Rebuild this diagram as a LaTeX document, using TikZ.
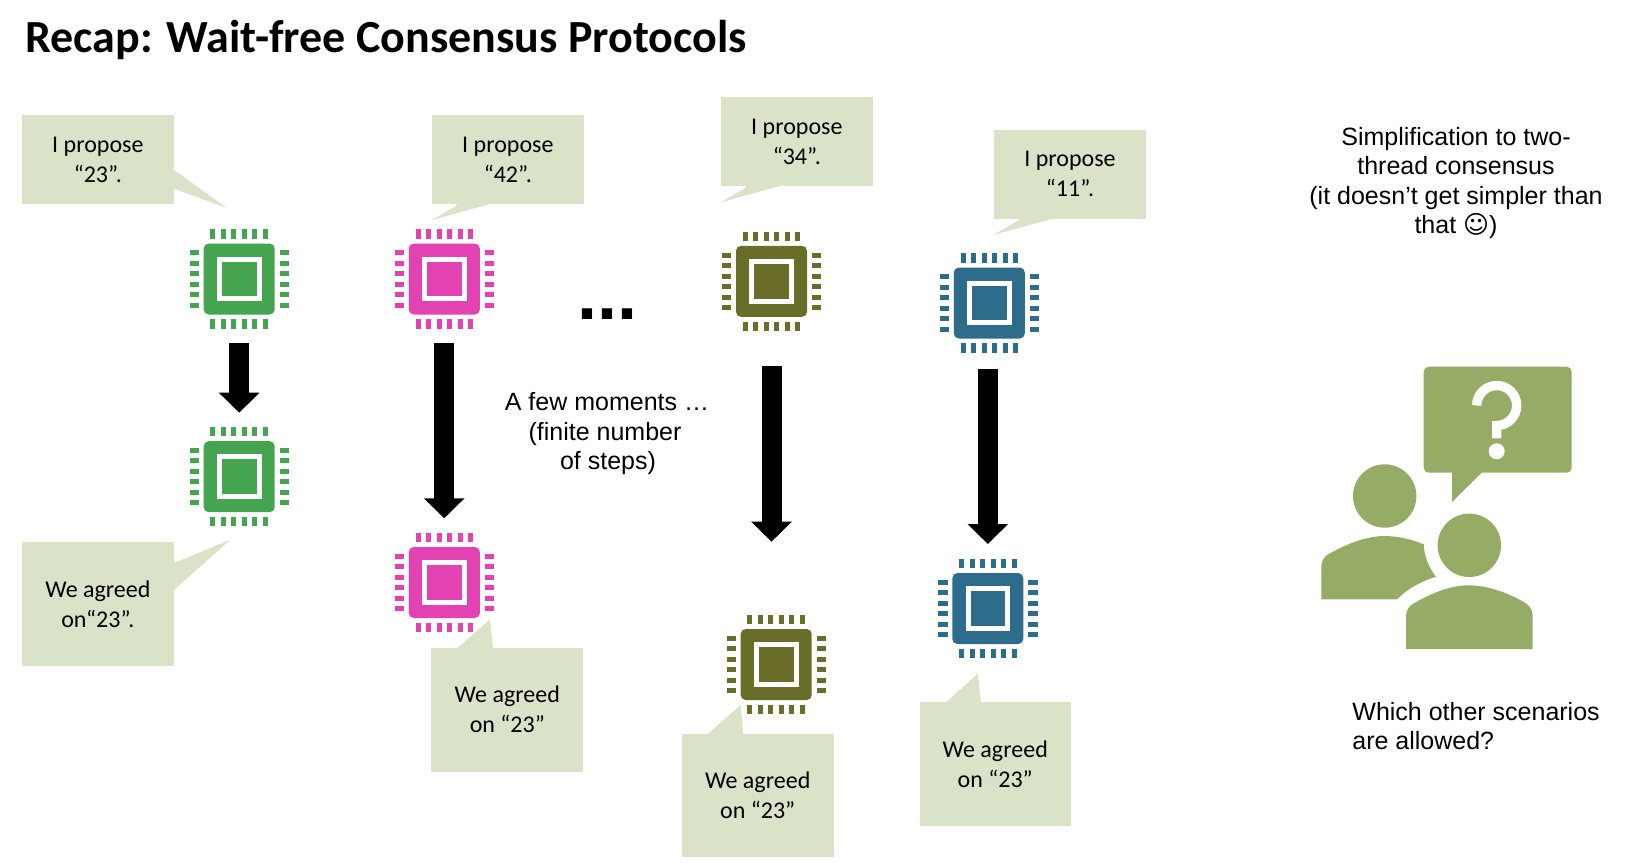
\documentclass[tikz,border=0pt]{standalone}
\usepackage{fontspec}
\setmainfont{Carlito}
\newfontfamily\arl{Liberation Sans}
\newfontfamily\djv{DejaVu Sans}
\usetikzlibrary{arrows.meta}
\definecolor{calloutc}{HTML}{DAE3C8}
\definecolor{iconc}{HTML}{95AB66}
\definecolor{chipg}{HTML}{44A44F}
\definecolor{chipm}{HTML}{E342B2}
\definecolor{chipo}{HTML}{696D27}
\definecolor{chipb}{HTML}{2E6C8B}
\tikzset{
  calloutbox/.style={fill=calloutc,inner sep=0pt,align=center,font=\fontsize{12}{15}\selectfont},
  chipbody/.style={inner sep=0pt,minimum size=35.5pt,rounded corners=2.5pt},
  blockarrow/.style={line width=10pt,-{Triangle[length=10pt,width=19.7pt]},black},
  armtext/.style={font=\arl\fontsize{12.5}{15}\selectfont,inner sep=0pt}
}
\newcommand{\chipat}[4]{%
  \node[chipbody,fill=#2] (#1) at (#3,#4) {};
  \begin{scope}[shift={(#3,#4)}]
    \fill[white] (-22.3,-22.3) rectangle (22.3,22.3);
    \fill[#2] (-17.3,-17.3) rectangle (17.3,17.3);
    \foreach \p in {-26.25,-15.75,-5.25,5.25,15.75,26.25}{
      \fill[#2] (\p-2.5,-49.7) rectangle (\p+2.5,-40.3);
      \fill[#2] (\p-2.5,40.3) rectangle (\p+2.5,49.7);
      \fill[#2] (-49.7,\p-2.5) rectangle (-40.3,\p+2.5);
      \fill[#2] (40.3,\p-2.5) rectangle (49.7,\p+2.5);
    }
  \end{scope}}
\newcommand{\calloutat}[6]{%
  \pgfmathsetmacro\cw{(#4-#2)*0.5}%
  \pgfmathsetmacro\ch{(#5-#3)*0.5}%
  \node[calloutbox,minimum width=\cw pt,minimum height=\ch pt] (#1) at ({(#2+#4)/2},{(#3+#5)/2}) {#6};}
\newcommand{\arrowat}[4]{%
  \coordinate (#1s) at (#2,#3);
  \coordinate (#1e) at (#2,#4);
  \draw[blockarrow] (#1s) -- (#1e);}
\begin{document}
\begin{tikzpicture}[x=0.5pt,y=-0.5pt]
\useasboundingbox (0,0) rectangle (1632,864);
\node[anchor=base west,inner sep=0pt,font=\bfseries\fontsize{23}{28}\selectfont] (title) at (25,52) {Recap: Wait-free Consensus Protocols};

% callouts
\fill[calloutc] (173,169) -- (226.7,208) -- (173,188.3) -- cycle;
\calloutat{k1}{22}{115}{173.7}{204}{I propose\\“23”.}
\fill[calloutc] (457.7,203) -- (456,206) -- (432,220) -- (494,203) -- cycle;
\calloutat{k2}{432}{115}{583.7}{204}{I propose\\“42”.}
\fill[calloutc] (746.7,185) -- (745,188) -- (721,202.3) -- (783.3,185) -- cycle;
\calloutat{k3}{721}{97}{872.7}{186}{I propose\\“34”.}
\fill[calloutc] (1020.7,217.7) -- (1019,220) -- (993.3,235) -- (1056,217.7) -- cycle;
\calloutat{k4}{994.3}{130}{1145.7}{218.7}{I propose\\“11”.}
\fill[calloutc] (173,563.3) -- (230,540) -- (173,591) -- cycle;
\calloutat{q1}{22}{542}{173.7}{665.7}{We agreed\\on“23”.}
\fill[calloutc] (456.7,648.7) -- (490,619.3) -- (493,648.7) -- cycle;
\calloutat{q2}{431.3}{647.7}{583.3}{771.7}{We agreed\\on “23”}
\fill[calloutc] (706.7,734.7) -- (740.7,705) -- (743.3,734.7) -- cycle;
\calloutat{q3}{681.7}{733.7}{833.7}{857.3}{We agreed\\on “23”}
\fill[calloutc] (945,703.3) -- (977.7,673.7) -- (981,703.3) -- cycle;
\calloutat{q4}{919.7}{702.3}{1070.7}{825.7}{We agreed\\on “23”}

% chips
\chipat{c1}{chipg}{239.2}{279}
\chipat{d1}{chipg}{239.2}{476.7}
\chipat{c2}{chipm}{444.3}{279}
\chipat{d2}{chipm}{444.3}{582.5}
\chipat{c3}{chipo}{771.5}{281.3}
\chipat{d3}{chipo}{776.2}{664.5}
\chipat{c4}{chipb}{989.3}{303}
\chipat{d4}{chipb}{987.8}{608.5}

% arrows
\arrowat{a1}{239.2}{343}{412.7}
\arrowat{a2}{444.2}{342.7}{518.3}
\arrowat{a3}{771.5}{366.3}{541.7}
\arrowat{a4}{987.8}{369}{544}

% mid texts
\node[anchor=base,inner sep=0pt,font=\arl\bfseries\fontsize{36}{36}\selectfont] (dots) at (607.5,319) {...};
\node[armtext,anchor=base] (m1) at (607,410) {A few moments …};
\node[armtext,anchor=base] (m2) at (605,440) {(finite number};
\node[armtext,anchor=base] (m3) at (608,469) {of steps)};

% right texts
\node[armtext,anchor=base] (r1) at (1456,145) {Simplification to two-};
\node[armtext,anchor=base] (r2) at (1456,174.5) {thread consensus};
\node[armtext,anchor=base] (r3) at (1456,204) {(it doesn’t get simpler than};
\node[armtext,anchor=base] (r4) at (1456,233.5) {that {\djv ☺})};
\node[armtext,anchor=base west] (w1) at (1352,720) {Which other scenarios};
\node[armtext,anchor=base west] (w2) at (1352,749) {are allowed?};

% icon
\fill[iconc,rounded corners=2.5pt] (1423.7,366.7) rectangle (1571.7,472.7);
\fill[iconc] (1452,470) -- (1452,502) -- (1481.7,472.7) -- (1481.7,470) -- cycle;
\draw[white,line width=4.7pt] (1476.7,405.5) arc[start angle=180,end angle=450,radius=20] -- (1496.7,438.3);
\fill[white] (1496.7,451.3) circle[radius=8];
\fill[iconc] (1384.7,496) circle[radius=31.7];
\fill[iconc] (1321.3,599.3) -- (1321.3,566.7) .. controls (1321.3,560) and (1325,555.5) .. (1330,553.3)
  .. controls (1345,545) and (1365,536) .. (1384.7,536)
  .. controls (1398,536) and (1412,539.5) .. (1423.7,544.3)
  .. controls (1424,556) and (1429,568) .. (1436,576.7)
  .. controls (1422,581) and (1408,588) .. (1397.3,599.3) -- cycle;
\fill[iconc] (1469.3,545.3) circle[radius=31.7];
\fill[iconc] (1406,649) -- (1406,616) .. controls (1406,609) and (1410,605.5) .. (1415,602.7)
  .. controls (1430,594) and (1450,585.3) .. (1468.3,585.3)
  .. controls (1488,585.3) and (1508,593) .. (1523.3,601.7)
  .. controls (1529,605) and (1532.7,609) .. (1532.7,616) -- (1532.7,649) -- cycle;
\end{tikzpicture}
\end{document}
